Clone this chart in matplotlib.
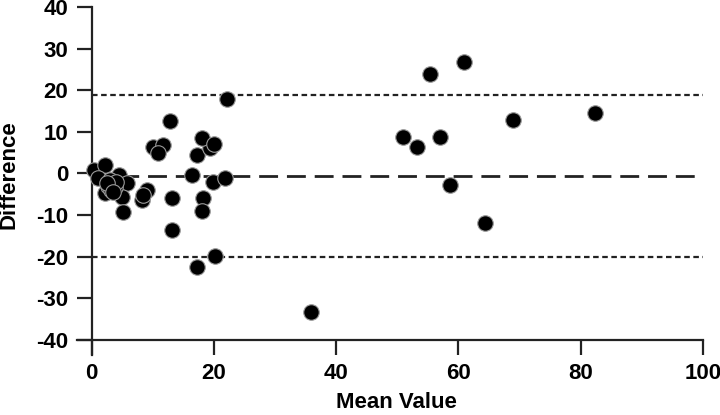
import matplotlib
matplotlib.use("Agg")
import matplotlib.pyplot as plt

plt.rcParams["axes.unicode_minus"] = False
plt.rcParams["font.family"] = "Liberation Sans"

# Bland-Altman data
mean_vals = [0.3, 2.2, 1.1, 4.4, 5.7, 2.2, 4.9, 5.2, 3.0, 2.7, 3.8, 3.2, 4.0, 2.5, 3.5,
             10.1, 11.7, 10.9, 12.8, 17.2, 19.4, 18.0, 20.0, 22.1, 16.4, 19.9, 21.8,
             9.0, 8.2, 8.4, 13.1, 18.2, 18.0, 13.1, 20.1, 17.3,
             35.9, 51.0, 53.2, 55.4, 57.0, 58.6, 61.0, 64.4, 69.0, 82.4]
diff_vals = [0.8, 2.0, -1.2, -0.4, -2.4, -4.8, -5.6, -9.2, -1.5, -3.0, -3.2, -4.0, -2.0, -2.2, -4.5,
             6.4, 6.9, 4.9, 12.7, 4.5, 6.1, 8.6, 7.0, 17.9, -0.4, -2.0, -1.2,
             -4.0, -6.4, -5.2, -6.0, -6.0, -9.0, -13.7, -19.8, -22.5,
             -33.3, 8.7, 6.3, 23.9, 8.7, -2.7, 26.8, -11.8, 12.9, 14.5]

bias = -0.6
upper_loa = 18.9
lower_loa = -20.0

fig = plt.figure(figsize=(7.2, 4.15), dpi=100)
ax = fig.add_axes([0.107, 0.145, 0.869, 0.838])

# limits of agreement (dotted) and bias (dashed)
ax.hlines([upper_loa, lower_loa], 0, 100, colors="#222222", linewidth=1.6,
          linestyles=(0, (2.5, 1.6)), zorder=1)
ax.hlines(bias, 0, 99, colors="#222222", linewidth=2.0,
          linestyles=(0, (6.8, 3.2)), zorder=1)

ax.scatter(mean_vals, diff_vals, s=125, c="black", edgecolors="#9a9a9a",
           linewidths=0.8, zorder=3, clip_on=False)

ax.set_xlim(-2.4, 100)
ax.set_ylim(-43.6, 40)
ax.spines["left"].set_position(("data", 0))
ax.spines["bottom"].set_position(("data", -40))
ax.spines["top"].set_visible(False)
ax.spines["right"].set_visible(False)
for s in ["left", "bottom"]:
    ax.spines[s].set_linewidth(1.6)
    ax.spines[s].set_color("#222222")

ax.set_xticks([0, 20, 40, 60, 80, 100])
ax.set_yticks([-40, -30, -20, -10, 0, 10, 20, 30, 40])
ax.tick_params(axis="both", length=11, width=1.6, color="#222222",
               labelsize=16, pad=6)
for lbl in ax.get_xticklabels() + ax.get_yticklabels():
    lbl.set_fontweight("bold")

ax.set_xlabel("Mean Value", fontsize=16, fontweight="bold")
ax.set_ylabel("Difference", fontsize=16, fontweight="bold")
ax.xaxis.set_label_coords(0.511, -0.108)
ax.yaxis.set_label_coords(-0.092, 0.517)

fig.savefig("out.png", dpi=100)
